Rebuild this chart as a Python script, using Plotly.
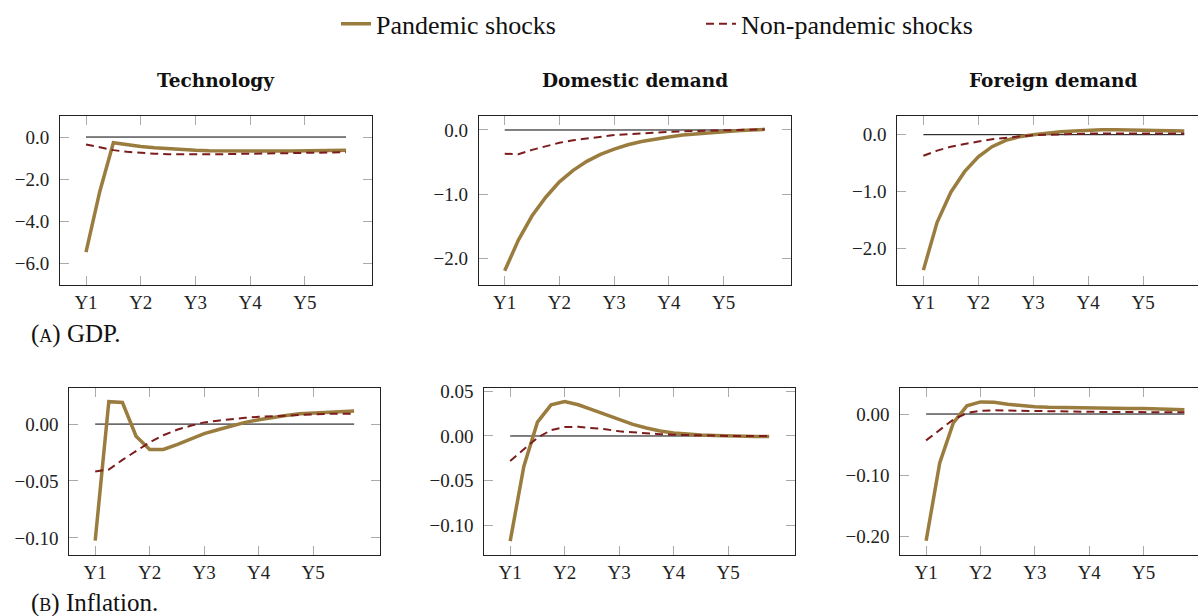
import plotly.graph_objects as go

# ---------------- data ----------------
quarters = list(range(20))
tick_vals = [0, 4, 8, 12, 16]
tick_labels = ["Y1", "Y2", "Y3", "Y4", "Y5"]
zero_line = [0.0] * 20

panel_titles = ["Technology", "Domestic demand", "Foreign demand"]
series_names = ["Pandemic shocks", "Non-pandemic shocks"]

# GDP
gdp_tech_pandemic = [-5.45, -2.6, -0.27, -0.37, -0.45, -0.51, -0.56, -0.6, -0.63, -0.65,
                     -0.66, -0.665, -0.67, -0.67, -0.665, -0.66, -0.655, -0.65, -0.64, -0.63]
gdp_tech_nonpandemic = [-0.35, -0.5, -0.62, -0.7, -0.76, -0.79, -0.81, -0.82, -0.82, -0.82,
                        -0.81, -0.8, -0.79, -0.78, -0.77, -0.76, -0.75, -0.74, -0.73, -0.72]
gdp_dom_pandemic = [-2.2, -1.72, -1.34, -1.05, -0.81, -0.63, -0.49, -0.38, -0.3, -0.23,
                    -0.18, -0.14, -0.11, -0.08, -0.06, -0.045, -0.025, -0.01, 0.0, 0.01]
gdp_dom_nonpandemic = [-0.37, -0.38, -0.31, -0.25, -0.2, -0.16, -0.13, -0.1, -0.08, -0.065,
                       -0.05, -0.04, -0.03, -0.02, -0.015, -0.01, -0.005, 0.0, 0.005, 0.01]
gdp_for_pandemic = [-2.38, -1.54, -1.01, -0.65, -0.39, -0.21, -0.1, -0.035, 0.0, 0.03,
                    0.05, 0.065, 0.08, 0.085, 0.085, 0.085, 0.08, 0.075, 0.07, 0.065]
gdp_for_nonpandemic = [-0.37, -0.28, -0.21, -0.16, -0.12, -0.08, -0.05, -0.03, -0.01, 0.0,
                       0.01, 0.015, 0.02, 0.02, 0.02, 0.02, 0.02, 0.02, 0.02, 0.02]

# Inflation
inf_tech_pandemic = [-0.1025, 0.0197, 0.019, -0.0107, -0.0223, -0.0223, -0.018, -0.013, -0.0084, -0.005,
                     -0.0015, 0.0015, 0.0038, 0.006, 0.0075, 0.009, 0.0095, 0.0105, 0.011, 0.0115]
inf_tech_nonpandemic = [-0.0416, -0.04, -0.0315, -0.0237, -0.016, -0.0098, -0.005, -0.0015, 0.0015, 0.003,
                        0.0045, 0.0055, 0.0064, 0.007, 0.0077, 0.0082, 0.0087, 0.009, 0.0092, 0.009]
inf_dom_pandemic = [-0.118, -0.0343, 0.0155, 0.035, 0.0387, 0.035, 0.0295, 0.024, 0.0184, 0.013,
                    0.0089, 0.0055, 0.0033, 0.002, 0.001, 0.0005, 0.0, -0.0003, -0.0005, -0.0005]
inf_dom_nonpandemic = [-0.028, -0.0155, -0.002, 0.0066, 0.01, 0.0103, 0.0089, 0.0075, 0.0052, 0.004,
                       0.003, 0.002, 0.0013, 0.0008, 0.0005, 0.0003, 0.0001, 0.0, 0.0, 0.0]
inf_for_pandemic = [-0.207, -0.08, -0.0145, 0.0134, 0.0198, 0.0193, 0.016, 0.0134, 0.0118, 0.011,
                    0.0105, 0.0103, 0.0102, 0.0098, 0.0095, 0.0092, 0.009, 0.0085, 0.008, 0.007]
inf_for_nonpandemic = [-0.043, -0.026, -0.009, 0.0016, 0.0054, 0.006, 0.0055, 0.005, 0.0045, 0.0042,
                       0.004, 0.0038, 0.0036, 0.0034, 0.0033, 0.0032, 0.0031, 0.003, 0.003, 0.0028]

# ---------------- layout geometry (pixels) ----------------
W, H = 1198, 616
SERIF = "Liberation Serif"
GOLD = "#9b7c3f"
RED = "#7d1c1c"

panels = [
    # (pandemic, nonpandemic, box px (x0,x1,y0,y1), xrange, yrange, yticks, fmt)
    (gdp_tech_pandemic, gdp_tech_nonpandemic, (60, 372, 108.5, 280), [-1.9, 20.9], [-7.0, 1.0], [-6, -4, -2, 0], ".1f"),
    (gdp_dom_pandemic, gdp_dom_nonpandemic, (478.7, 790.7, 108.5, 280), [-1.9, 20.9], [-2.42, 0.22], [-2, -1, 0], ".1f"),
    (gdp_for_pandemic, gdp_for_nonpandemic, (897.3, 1198, 108.5, 280), [-1.9, 20.0], [-2.64, 0.33], [-2, -1, 0], ".1f"),
    (inf_tech_pandemic, inf_tech_nonpandemic, (69.3, 380, 384.3, 554), [-1.9, 20.9], [-0.115, 0.032], [-0.1, -0.05, 0], ".2f"),
    (inf_dom_pandemic, inf_dom_nonpandemic, (484.3, 795, 384.3, 554), [-1.9, 20.9], [-0.1335, 0.0542], [-0.1, -0.05, 0, 0.05], ".2f"),
    (inf_for_pandemic, inf_for_nonpandemic, (900.3, 1198, 384.3, 554), [-1.9, 20.0], [-0.23, 0.043], [-0.2, -0.1, 0], ".2f"),
]

fig = go.Figure()
layout = dict(
    width=W, height=H,
    margin=dict(l=0, r=0, t=0, b=0),
    paper_bgcolor="white", plot_bgcolor="white",
    font=dict(family=SERIF, size=19, color="#222"),
    showlegend=True,
    legend=dict(orientation="h", x=336 / W, xanchor="left", y=1 - 15 / H, yanchor="middle",
                entrywidth=320, entrywidthmode="pixels", font=dict(family=SERIF, size=26, color="#111"),
                bgcolor="rgba(0,0,0,0)", tracegroupgap=0),
    annotations=[],
)

for i, (pan, nonpan, box, xr, yr, yt, fmt) in enumerate(panels):
    n = i + 1
    xa = "x" if n == 1 else f"x{n}"
    ya = "y" if n == 1 else f"y{n}"
    x0, x1, y0, y1 = box
    cut = x1 >= W
    fig.add_trace(go.Scatter(x=quarters, y=zero_line, mode="lines", line=dict(color="black", width=1),
                             xaxis=xa, yaxis=ya, showlegend=False, hoverinfo="skip"))
    fig.add_trace(go.Scatter(x=quarters, y=pan, mode="lines", name=series_names[0],
                             line=dict(color=GOLD, width=3.5), xaxis=xa, yaxis=ya, showlegend=(n == 1)))
    fig.add_trace(go.Scatter(x=quarters, y=nonpan, mode="lines", name=series_names[1],
                             line=dict(color=RED, width=2, dash="8px,5px"), xaxis=xa, yaxis=ya,
                             showlegend=(n == 1)))
    layout[f"xaxis{'' if n == 1 else n}"] = dict(
        domain=[x0 / W, min(x1 / W, 1.0)], anchor=ya, range=xr,
        tickvals=tick_vals, ticktext=tick_labels,
        showline=True, linecolor="#222", linewidth=1, mirror="allticks",
        ticks="inside", ticklen=9, tickcolor="#aaaaaa", tickwidth=1,
        showgrid=False, zeroline=False, tickfont=dict(family=SERIF, size=19, color="#222"),
        fixedrange=True,
    )
    layout[f"yaxis{'' if n == 1 else n}"] = dict(
        domain=[1 - y1 / H, 1 - y0 / H], anchor=xa, range=yr,
        tickvals=yt, tickformat=fmt,
        showline=True, linecolor="#222", linewidth=1, mirror=(True if cut else "allticks"),
        ticks="inside", ticklen=9, tickcolor="#aaaaaa", tickwidth=1,
        showgrid=False, zeroline=False, tickfont=dict(family=SERIF, size=19, color="#222"),
        ticklabelstandoff=6, fixedrange=True,
    )
    if n <= 3:
        full_x1 = x0 + 312.5
        layout["annotations"].append(dict(
            text=f"<b>{panel_titles[i]}</b>", x=((x0 + full_x1) / 2) / W, y=1 - 73 / H,
            xref="paper", yref="paper", xanchor="center", yanchor="middle", showarrow=False,
            font=dict(family="DejaVu Serif", size=18.5, color="#111")))

layout["annotations"].append(dict(
    text="(<span style='font-size:18px'>A</span>) GDP.", x=29 / W, y=1 - 330 / H,
    xref="paper", yref="paper", xanchor="left", yanchor="middle", showarrow=False,
    font=dict(family=SERIF, size=25, color="#111")))
layout["annotations"].append(dict(
    text="(<span style='font-size:18px'>B</span>) Inflation.", x=29 / W, y=1 - 603 / H,
    xref="paper", yref="paper", xanchor="left", yanchor="middle", showarrow=False,
    font=dict(family=SERIF, size=25, color="#111")))

fig.update_layout(**layout)
fig.write_html(
    "out.html",
    config={"displayModeBar": False},
    post_script="document.body.style.margin='0';document.body.style.padding='0';"
                "document.body.style.overflow='hidden';"
                "var gd=document.getElementById('{plot_id}');"
                "gd.style.position='fixed';gd.style.top='0px';gd.style.left='0px';",
)
